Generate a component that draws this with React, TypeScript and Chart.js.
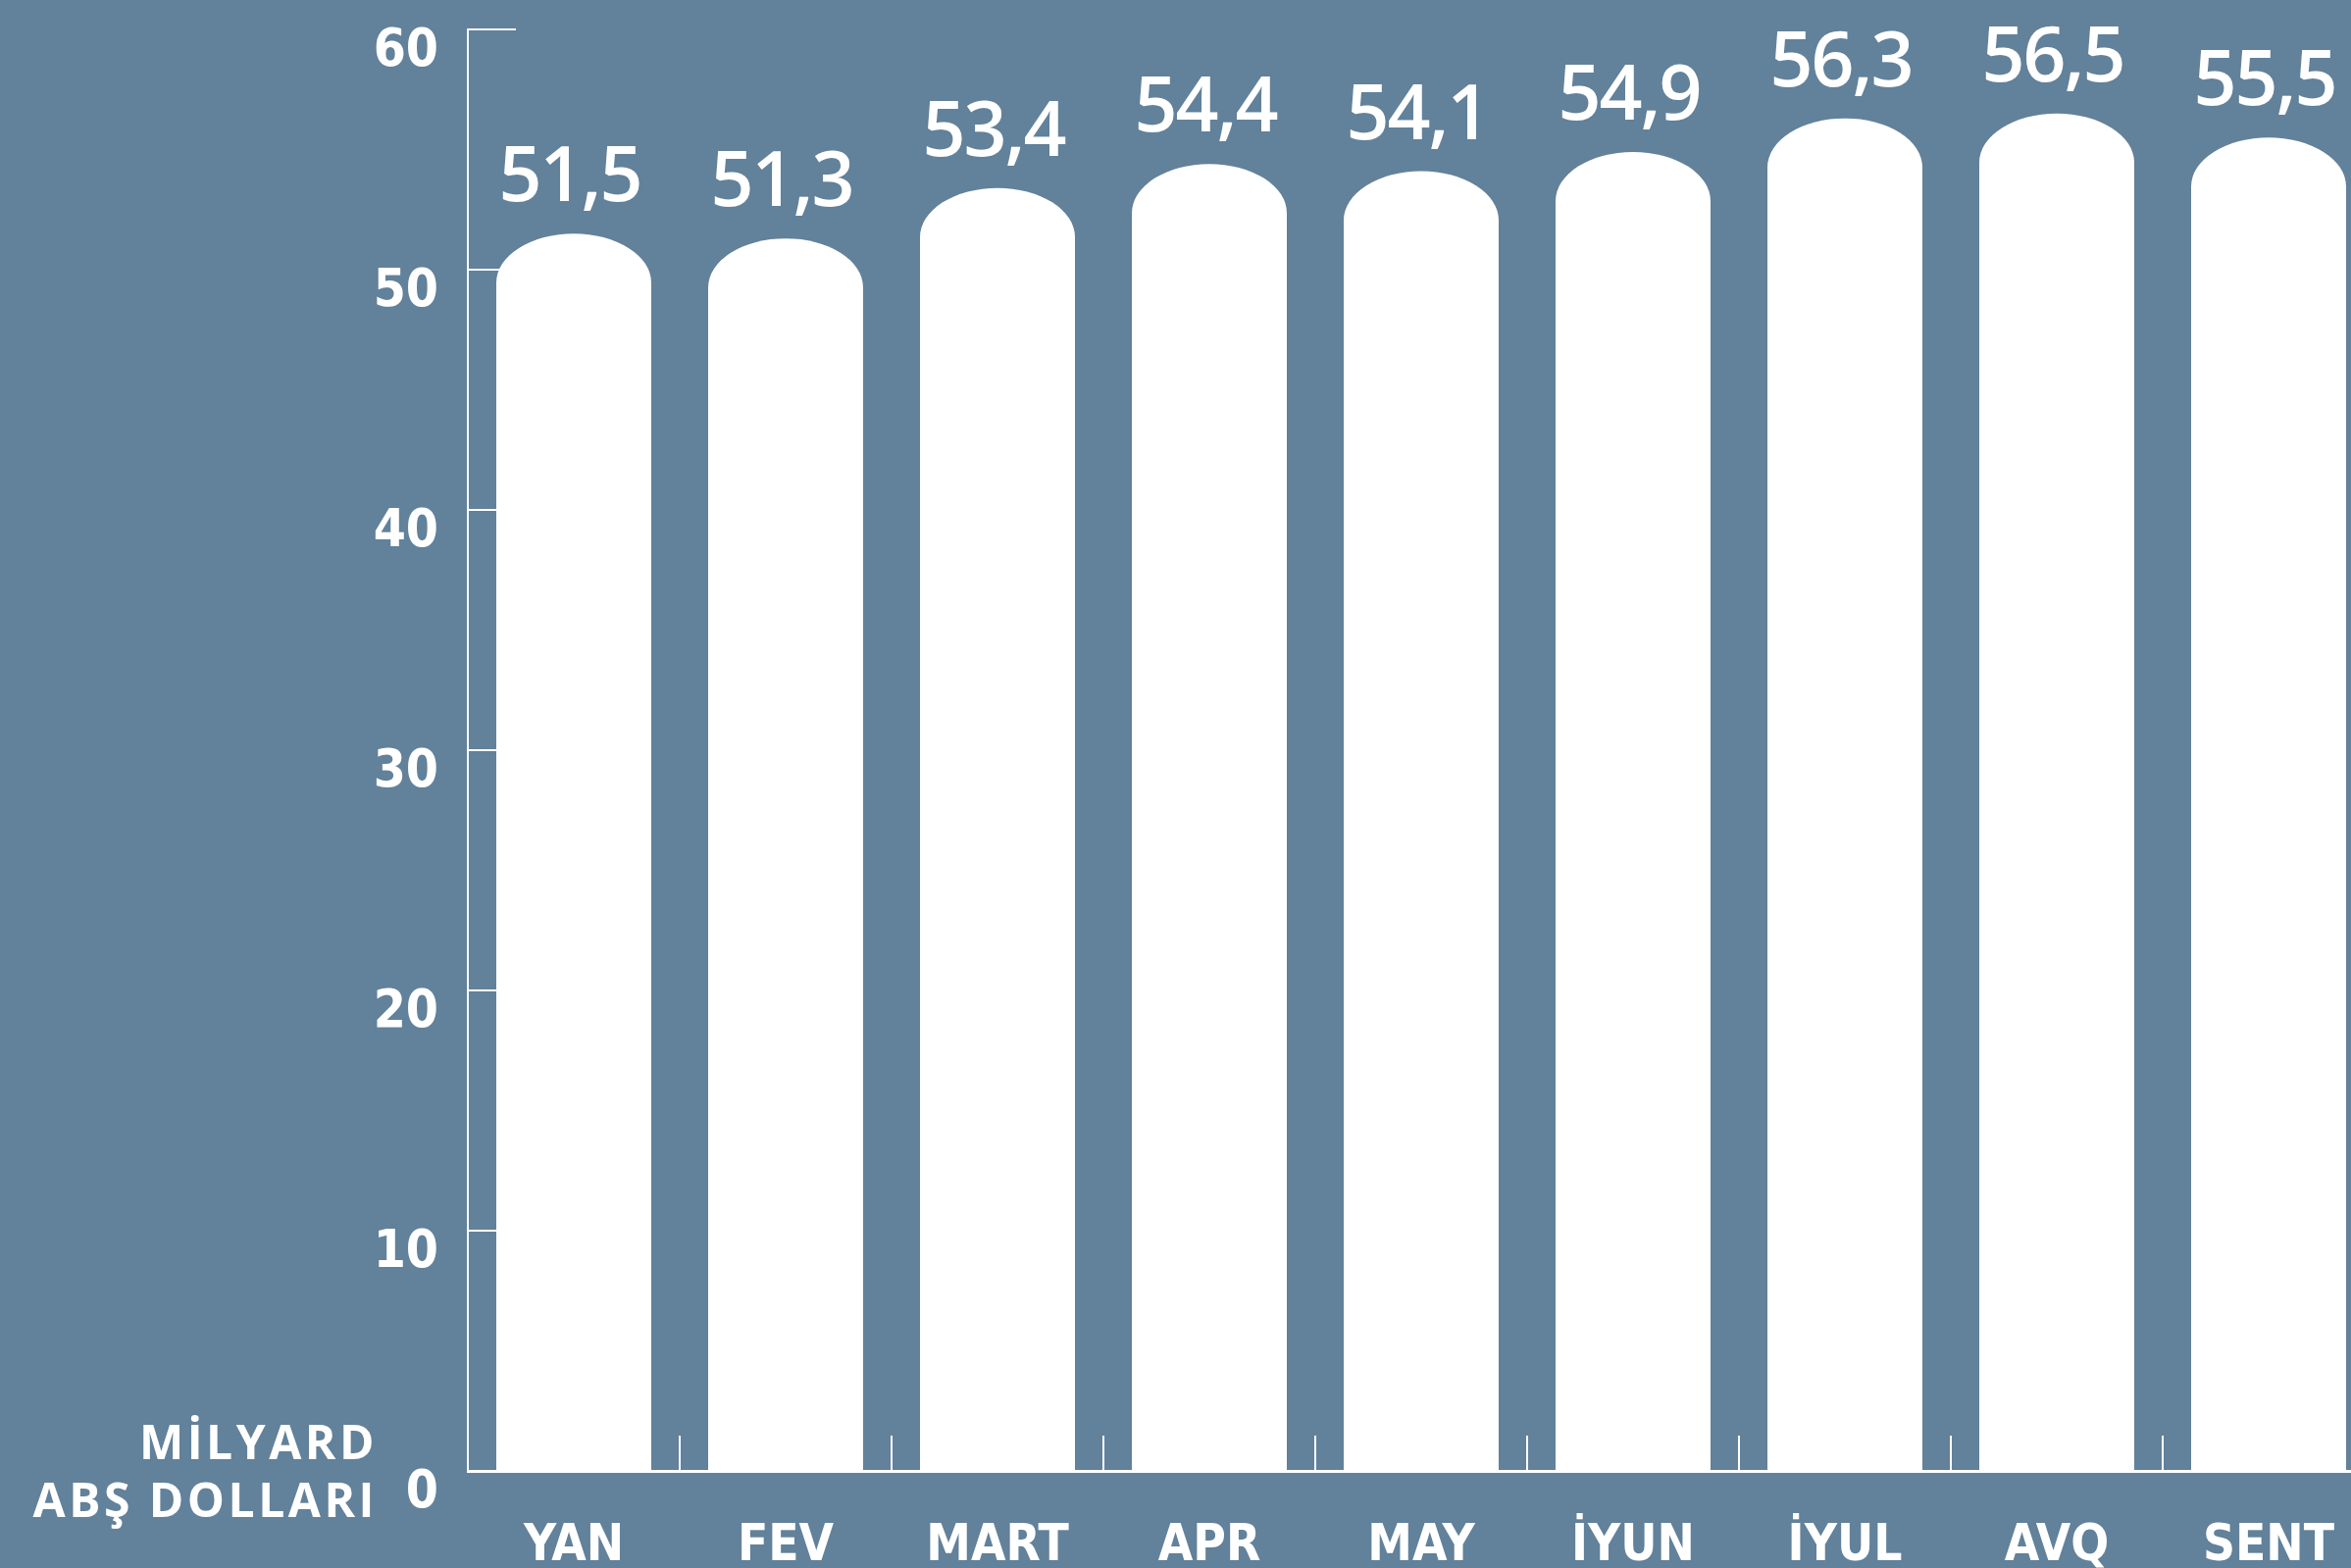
import React, { useEffect, useRef } from "react";
import { Chart, registerables } from "chart.js";

Chart.register(...registerables);

const categories = ["YAN", "FEV", "MART", "APR", "MAY", "İYUN", "İYUL", "AVQ", "SENT"];
const values = [51.5, 51.3, 53.4, 54.4, 54.1, 54.9, 56.3, 56.5, 55.5];
const yMin = 0;
const yMax = 60;
const yStep = 10;
const unitLines = ["MİLYARD", "ABŞ DOLLARI"];

const BG = "#62819A";
const WHITE = "#FFFFFF";
const TICK_FAMILY = "'Liberation Sans Narrow', 'DejaVu Sans Condensed', 'Roboto', sans-serif";

export default function App() {
  const ref = useRef<HTMLCanvasElement>(null);

  useEffect(() => {
    if (!ref.current) return;

    const domePlugin = {
      id: "domeBars",
      afterDatasetsDraw(chart: any) {
        const ctx = chart.ctx as CanvasRenderingContext2D;
        const meta = chart.getDatasetMeta(0);
        ctx.save();
        meta.data.forEach((el: any, i: number) => {
          const { x, y, base, width } = el.getProps(["x", "y", "base", "width"], true);
          const rx = width / 2;
          const ry = 50;
          ctx.beginPath();
          ctx.moveTo(x - rx, base);
          ctx.lineTo(x - rx, y + ry);
          ctx.ellipse(x, y + ry, rx, ry, 0, Math.PI, 2 * Math.PI);
          ctx.lineTo(x + rx, base);
          ctx.closePath();
          ctx.fillStyle = WHITE;
          ctx.fill();

          ctx.font = "600 77px 'Open Sans', sans-serif";
          ctx.textAlign = "center";
          ctx.textBaseline = "alphabetic";
          (ctx as any).letterSpacing = "-2px";
          ctx.fillStyle = WHITE;
          ctx.fillText(values[i].toFixed(1).replace(".", ","), x - 4, y - 33);
        });
        ctx.restore();
      },
      afterDraw(chart: any) {
        const ctx = chart.ctx as CanvasRenderingContext2D;
        ctx.save();
        ctx.font = "700 48px 'Open Sans', sans-serif";
        (ctx as any).letterSpacing = "3.5px";
        ctx.textAlign = "right";
        ctx.textBaseline = "alphabetic";
        ctx.fillStyle = WHITE;
        ctx.fillText(unitLines[0], 385, 1488);
        ctx.fillText(unitLines[1], 385, 1547);
        ctx.restore();
      },
    };

    const chart = new Chart(ref.current, {
      type: "bar",
      data: {
        labels: categories,
        datasets: [
          {
            data: values,
            backgroundColor: "rgba(0,0,0,0)",
            borderWidth: 0,
            categoryPercentage: 1,
            barPercentage: 0.7315,
          },
        ],
      },
      options: {
        responsive: false,
        animation: false,
        devicePixelRatio: 1,
        layout: { padding: { top: 30, left: 0, right: 0, bottom: 0 } },
        plugins: {
          legend: { display: false },
          tooltip: { enabled: false },
        },
        scales: {
          x: {
            offset: true,
            ticks: {
              color: WHITE,
              font: { family: TICK_FAMILY, size: 51, weight: "bold" },
              padding: 83,
              maxRotation: 0,
              autoSkip: false,
            },
            grid: {
              offset: true,
              drawOnChartArea: false,
              drawTicks: true,
              tickLength: -36,
              color: WHITE,
              lineWidth: 2,
            },
            border: { display: true, color: WHITE, width: 3 },
            afterFit: (s: any) => {
              s.height = 99;
              s.paddingLeft = 0;
              s.paddingRight = 0;
            },
          },
          y: {
            min: yMin,
            max: yMax,
            ticks: {
              stepSize: yStep,
              color: WHITE,
              font: { family: TICK_FAMILY, size: 53, weight: "bold" },
              padding: 79,
              labelOffset: 23,
            },
            grid: {
              drawOnChartArea: false,
              drawTicks: true,
              tickLength: -49,
              color: WHITE,
              lineWidth: 2,
            },
            border: { display: true, color: WHITE, width: 2 },
            afterFit: (s: any) => {
              s.width = 477;
              s.paddingTop = 0;
              s.paddingBottom = 0;
            },
          },
        },
      },
      plugins: [domePlugin],
    } as any);

    return () => chart.destroy();
  }, []);

  return (
    <div
      style={{
        position: "fixed",
        left: 0,
        top: 0,
        width: "100vw",
        height: "100vh",
        overflow: "hidden",
        background: BG,
      }}
    >
      <canvas
        ref={ref}
        width={2421}
        height={1599}
        style={{ display: "block", width: 2421, height: 1599 }}
      />
    </div>
  );
}
